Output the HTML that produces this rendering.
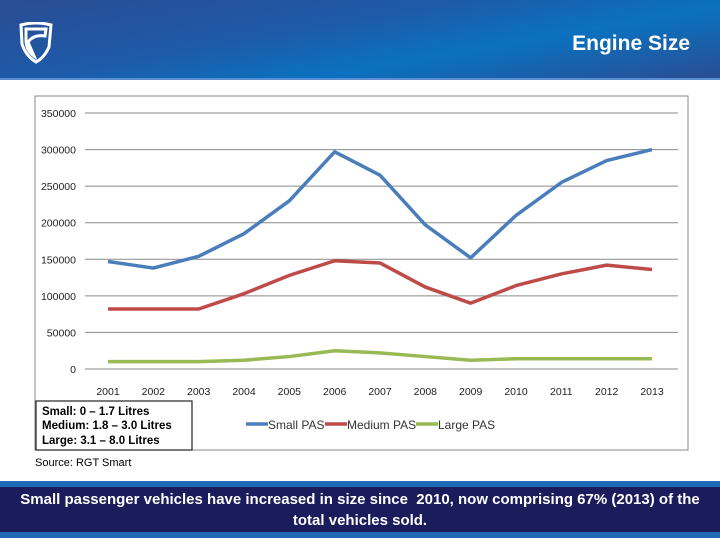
<!DOCTYPE html>
<html><head><meta charset="utf-8"><style>
body{margin:0;width:720px;height:540px;overflow:hidden;background:#fff;font-family:"Liberation Sans",sans-serif;position:relative}
#hdr{position:absolute;left:0;top:0;width:720px;height:78px;background:linear-gradient(170deg,#2a4d94 0%,#1e5aa8 40%,#0a72c0 65%,#2a4d94 100%);border-bottom:2px solid #5b8ed0}
#title{position:absolute;right:30px;top:32px;color:#fff;font-weight:bold;font-size:21px}
#ftr1{position:absolute;left:0;top:481px;width:720px;height:57px;background:#1f6bb5}
#ftr{position:absolute;left:0;top:487px;width:720px;height:45px;background:#1a1c5c;color:#fff;font-weight:bold;font-size:15px;text-align:center;line-height:21px;padding-top:2px;box-sizing:border-box}
</style></head><body>
<div id="hdr">
<svg style="position:absolute;left:18px;top:22px" width="36" height="42"><path d="M3 3 Q18 -1 33 3 L31 25 Q26 36 18 40 Q8 34 4 22 Z M8 7 L28 7 L27 14 Q16 12 10 20 L16 34 Q8 28 8 18 Z" fill="none" stroke="#fff" stroke-width="3"/></svg>
<div id="title">Engine Size</div>
</div>
<svg id="chart" style="position:absolute;left:0;top:0" width="720" height="480">
<rect x="35" y="96" width="653" height="354" fill="#fff" stroke="#888"/>
<g id="grid"></g><g id="lines"></g><g id="xt"></g>
<rect x="36" y="401" width="156" height="49" fill="#fff" stroke="#222" stroke-width="1.2"/>
<text x="42" y="415" font-size="11.5" font-weight="bold" fill="#000">Small: 0 – 1.7 Litres</text>
<text x="42" y="429" font-size="11.5" font-weight="bold" fill="#000">Medium: 1.8 – 3.0 Litres</text>
<text x="42" y="444" font-size="11.5" font-weight="bold" fill="#000">Large: 3.1 – 8.0 Litres</text>
<text x="35" y="466" font-size="11" fill="#000">Source: RGT Smart</text>
<g>
<line x1="246" y1="424" x2="268" y2="424" stroke="#4a7ebb" stroke-width="3.5"/><text x="268" y="429" font-size="12" fill="#333">Small PAS</text>
<line x1="325" y1="424" x2="347" y2="424" stroke="#be4b48" stroke-width="3.5"/><text x="347" y="429" font-size="12" fill="#333">Medium PAS</text>
<line x1="416" y1="424" x2="438" y2="424" stroke="#98b954" stroke-width="3.5"/><text x="438" y="429" font-size="12" fill="#333">Large PAS</text>
</g>
</svg>
<div id="ftr1"></div>
<div id="ftr">Small passenger vehicles have increased in size since&nbsp; 2010, now comprising 67% (2013) of the<br>total vehicles sold.</div>
<script>
const years=["2001","2002","2003","2004","2005","2006","2007","2008","2009","2010","2011","2012","2013"];
const smallPAS=[147000,138000,154000,185000,230000,297000,265000,197000,152000,210000,255000,285000,300000];
const mediumPAS=[82000,82000,82000,103000,128000,148000,145000,112000,90000,114000,130000,142000,136000];
const largePAS=[10000,10000,10000,12000,17000,25000,22000,17000,12000,14000,14000,14000,14000];
const yTicks=[0,50000,100000,150000,200000,250000,300000,350000];
const NS="http://www.w3.org/2000/svg";
const xs=i=>108+i*(652-108)/12;
const ys=v=>369-v*(369-113)/350000;
function mk(t,a,p){const e=document.createElementNS(NS,t);for(const k in a)e.setAttribute(k,a[k]);p.appendChild(e);return e;}
const g=document.getElementById('grid');
yTicks.forEach(v=>{
 const l=mk('line',{x1:85,x2:678,y1:ys(v),y2:ys(v),stroke:'#8a8a8a','stroke-width':1},g);
 
 
 const t=mk('text',{x:76,y:ys(v)+4,'font-size':10.5,'text-anchor':'end',fill:'#222'},g);
 t.textContent=v;
 
 
});
const xt=document.getElementById('xt');
years.forEach((y,i)=>{
 const t=mk('text',{x:xs(i),y:395,'font-size':10.5,'text-anchor':'middle',fill:'#222'},xt);
 t.textContent=y;
 
 
});
const L=document.getElementById('lines');
[[largePAS,'#98b954','large-pas-line'],[mediumPAS,'#be4b48','medium-pas-line'],[smallPAS,'#4a7ebb','small-pas-line']].forEach(([d,c,n])=>{
 const p=mk('polyline',{points:d.map((v,i)=>xs(i)+','+ys(v)).join(' '),fill:'none',stroke:c,'stroke-width':3.5,'stroke-linejoin':'round'},L);
 
 
});
</script>
</body></html>
